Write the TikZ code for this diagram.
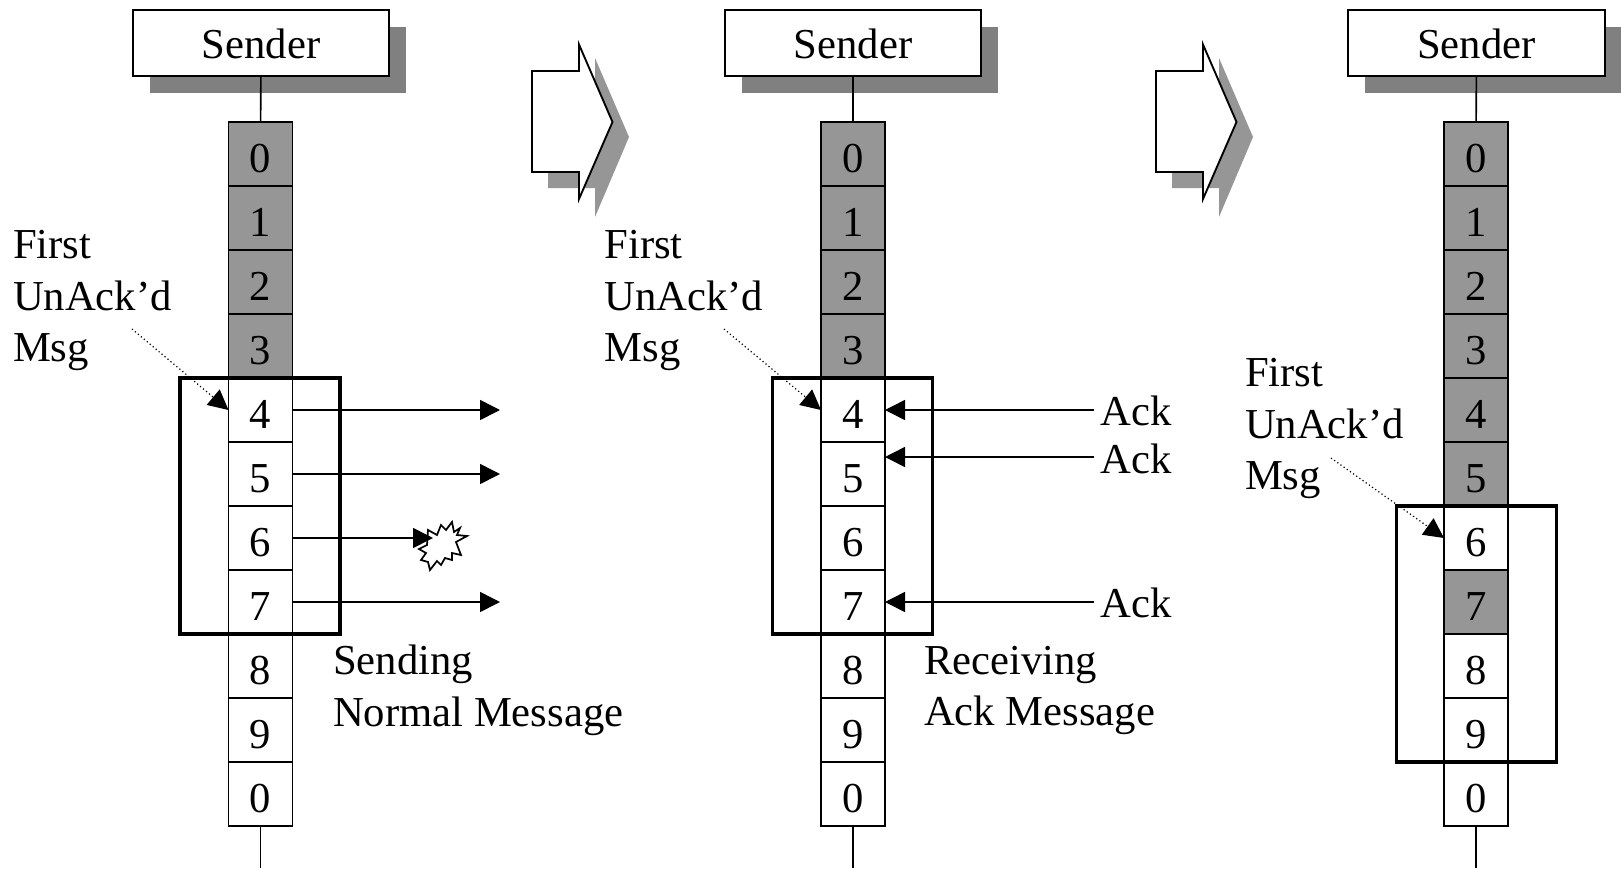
\documentclass[tikz,border=0pt]{standalone}
\usepackage{fontspec}
\setmainfont{Liberation Serif}
\usetikzlibrary{arrows.meta,shadows}
\definecolor{cellgray}{HTML}{969696}
\definecolor{shadowgray}{HTML}{808080}
\tikzset{
  x=0.75pt,y=-0.75pt,
  every node/.style={font=\fontsize{32}{38.6}\selectfont,inner sep=0pt,outer sep=0pt},
  whitecell/.style={draw=black,line width=1.2pt,fill=white,minimum width=48pt,minimum height=48pt,text height=27.6pt,text depth=0pt},
  graycell/.style={whitecell,fill=cellgray},
  sender/.style={draw=black,line width=1.4pt,fill=white,minimum width=192.2pt,minimum height=49.5pt,text height=23pt,text depth=0pt,
    drop shadow={shadow xshift=12.5pt,shadow yshift=-12.5pt,fill=shadowgray,opacity=1}},
  wire/.style={line width=1.2pt},
  window/.style={draw=black,line width=2.6pt,minimum width=120pt,minimum height=192pt},
  txt/.style={anchor=west,align=left},
  msgarrow/.style={line width=1.2pt,-{Triangle[length=15pt,width=15pt]}},
  ptr/.style={line width=0.9pt,dotted,-{Triangle[length=15pt,width=15pt,sep=0pt]}},
  bigarrow/.style={draw=black,line width=1.4pt,fill=white,line join=miter},
  bigshadow/.style={fill=cellgray},
}
\begin{document}
\begin{tikzpicture}
\useasboundingbox (0,0) rectangle (1621,868);
% big arrows
\foreach \dx in {0,624}{
  \fill[bigshadow,shift={(\dx*0.75pt+12pt,-12pt)}] (532,71) -- (579,71) -- (579,42) -- (613,121) -- (579,201) -- (579,172) -- (532,172) -- cycle;
  \draw[bigarrow,shift={(\dx*0.75pt,0)}] (532,71) -- (579,71) -- (579,44.5) -- (612.5,122) -- (579,199) -- (579,172) -- (532,172) -- cycle;
}
% senders
\node[sender] (s1) at (261,43) {Sender};
\node[sender] (s2) at (853,43) {Sender};
\node[sender] (s3) at (1476.5,43) {Sender};
% cells
\foreach \i/\d/\st in {0/0/graycell,1/1/graycell,2/2/graycell,3/3/graycell,4/4/whitecell,5/5/whitecell,6/6/whitecell,7/7/whitecell,8/8/whitecell,9/9/whitecell,10/0/whitecell}{
  \node[\st] (a\i) at (260.5,{154+64*\i}) {\d};
  \node[\st] (b\i) at (853,{154+64*\i}) {\d};
}
\foreach \i/\d/\st in {0/0/graycell,1/1/graycell,2/2/graycell,3/3/graycell,4/4/graycell,5/5/graycell,6/6/whitecell,7/7/graycell,8/8/whitecell,9/9/whitecell,10/0/whitecell}{
  \node[\st] (c\i) at (1476,{154+64*\i}) {\d};
}
% wires
\coordinate (e1) at (260.5,868);
\coordinate (e2) at (853,868);
\coordinate (e3) at (1476,868);
\draw[wire] (s1) -- (a0);
\draw[wire] (s2) -- (b0);
\draw[wire] (s3) -- (c0);
\draw[wire] (a10) -- (e1);
\draw[wire] (b10) -- (e2);
\draw[wire] (c10) -- (e3);
% windows
\node[window] (w1) at (260,506) {};
\node[window] (w2) at (852.5,506) {};
\node[window] (w3) at (1476.5,634) {};
% send arrows
\coordinate (o4) at (500,410);
\coordinate (o5) at (500,474);
\coordinate (o6) at (433,538);
\coordinate (o7) at (500,602);
\draw[line width=1.3pt,fill=white,line join=miter,xshift=-1.5pt]
  (430,530) -- (439,535) -- (443,525) -- (448,530) -- (454,522) -- (456,532) -- (462,528) -- (459,535) -- (469,536) -- (458,542) -- (463,555) -- (454,553) -- (454,560) -- (447,558) -- (443,565) -- (439,561) -- (432,570) -- (430,562) -- (423,560) -- (428,553) -- (421,549) -- (429,545) -- cycle;
\draw[msgarrow] (a4.east) -- (o4);
\draw[msgarrow] (a5.east) -- (o5);
\draw[msgarrow] (a6.east) -- (o6);
\draw[msgarrow] (a7.east) -- (o7);
% acks
\node[anchor=west] (k1) at (1100.5,411) {Ack};
\node[anchor=west] (k2) at (1100.5,459) {Ack};
\node[anchor=west] (k3) at (1100.5,603) {Ack};
\coordinate (k1a) at (1094,410);
\coordinate (k2a) at (1094,457);
\coordinate (k3a) at (1094,602);
\draw[msgarrow] (k1a) -- (k1a -| b4.east);
\draw[msgarrow] (k2a) -- (k2a -| b5.east);
\draw[msgarrow] (k3a) -- (k3a -| b7.east);
% labels
\node[txt] (t1) at (13,300.5) {First\\UnAck’d\\Msg};
\node[txt] (t2) at (604.5,300.5) {First\\UnAck’d\\Msg};
\node[txt] (t3) at (1245,428.5) {First\\UnAck’d\\Msg};
\node[txt] (l1) at (333,690.5) {Sending\\Normal Message};
\node[txt] (l2) at (924,690.5) {Receiving\\Ack Message};
% pointers
\coordinate (p1) at (132,329);
\coordinate (p2) at (724,329);
\coordinate (p3) at (1331,458);
\draw[ptr] (p1) -- (a4.west);
\draw[ptr] (p2) -- (b4.west);
\draw[ptr] (p3) -- (c6.west);
\end{tikzpicture}
\end{document}
